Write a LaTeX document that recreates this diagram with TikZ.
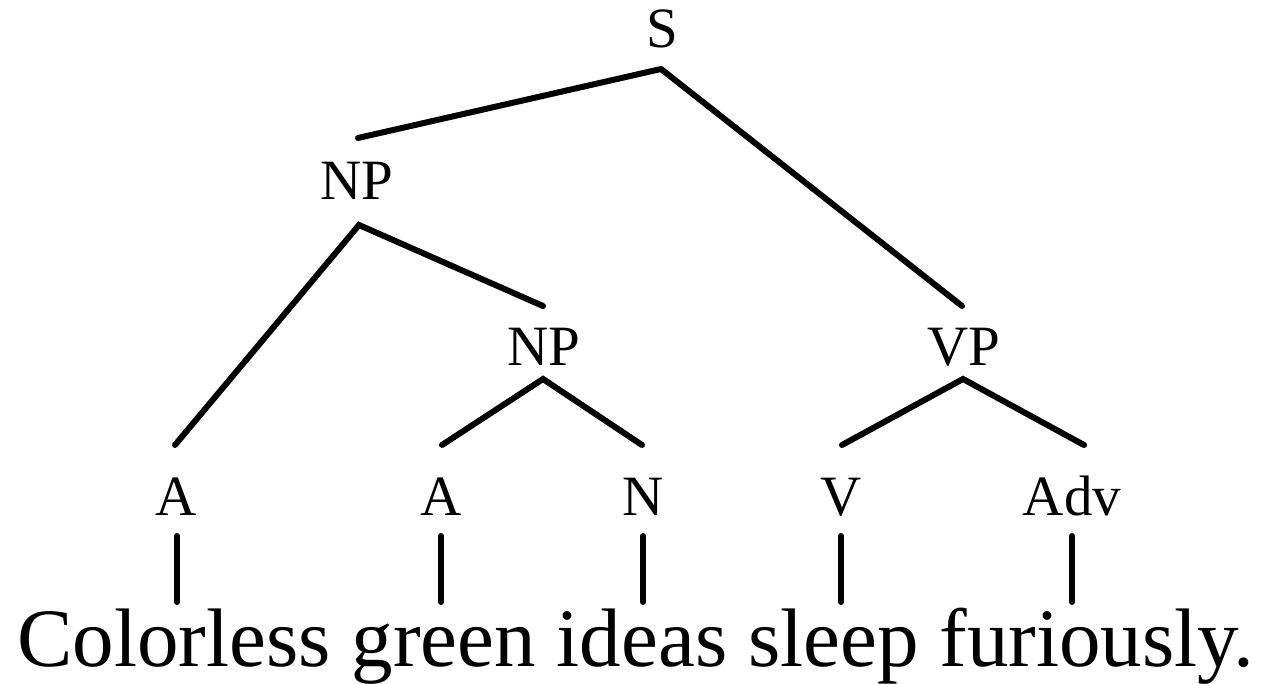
\documentclass[tikz,border=0pt]{standalone}
\usepackage{fontspec}
\setmainfont{Liberation Serif}
\begin{document}
\begin{tikzpicture}[x=1pt,y=-1pt,
  lbl/.style={anchor=base,inner sep=0pt,font=\fontsize{57}{60}\selectfont},
  edge/.style={line width=6pt,line cap=round,line join=miter}]
\useasboundingbox (0,0) rectangle (1266,684);
% labels
\node[lbl] (S) at (662,48) {S};
\node[lbl] (NPa) at (357,200) {NP};
\node[lbl] (NPb) at (544,366) {NP};
\node[lbl] (VP) at (964,366) {VP};
\node[lbl] (A1) at (176,515) {A};
\node[lbl] (A2) at (441,515) {A};
\node[lbl] (N) at (643,515) {N};
\node[lbl] (V) at (841,515) {V};
\node[lbl] (Adv) at (1072,515) {Adv};
\node[anchor=base,inner sep=0pt,font=\fontsize{83}{86}\selectfont] (sent) at (636,666) {Colorless green ideas sleep furiously.};
% connector end points
\coordinate (S-b) at (661,69);
\coordinate (NPa-t) at (358,138);
\coordinate (NPa-b) at (359,225);
\coordinate (NPb-t) at (543,306);
\coordinate (NPb-b) at (543,379);
\coordinate (VP-t) at (962,306);
\coordinate (VP-b) at (963,379);
\coordinate (A1-t) at (175,445);
\coordinate (A2-t) at (442,445);
\coordinate (N-t) at (642,445);
\coordinate (V-t) at (842,445);
\coordinate (Adv-t) at (1084,445);
\coordinate (A1-b) at (177,536);
\coordinate (A2-b) at (441,536);
\coordinate (N-b) at (643,536);
\coordinate (V-b) at (841,536);
\coordinate (Adv-b) at (1072,536);
\coordinate (w1) at (177,602);
\coordinate (w2) at (441,602);
\coordinate (w3) at (643,602);
\coordinate (w4) at (841,602);
\coordinate (w5) at (1072,602);
% edges
\draw[edge] (NPa-t) -- (S-b) -- (VP-t);
\draw[edge] (A1-t) -- (NPa-b) -- (NPb-t);
\draw[edge] (A2-t) -- (NPb-b) -- (N-t);
\draw[edge] (V-t) -- (VP-b) -- (Adv-t);
\draw[edge] (A1-b) -- (w1);
\draw[edge] (A2-b) -- (w2);
\draw[edge] (N-b) -- (w3);
\draw[edge] (V-b) -- (w4);
\draw[edge] (Adv-b) -- (w5);
\end{tikzpicture}
\end{document}
